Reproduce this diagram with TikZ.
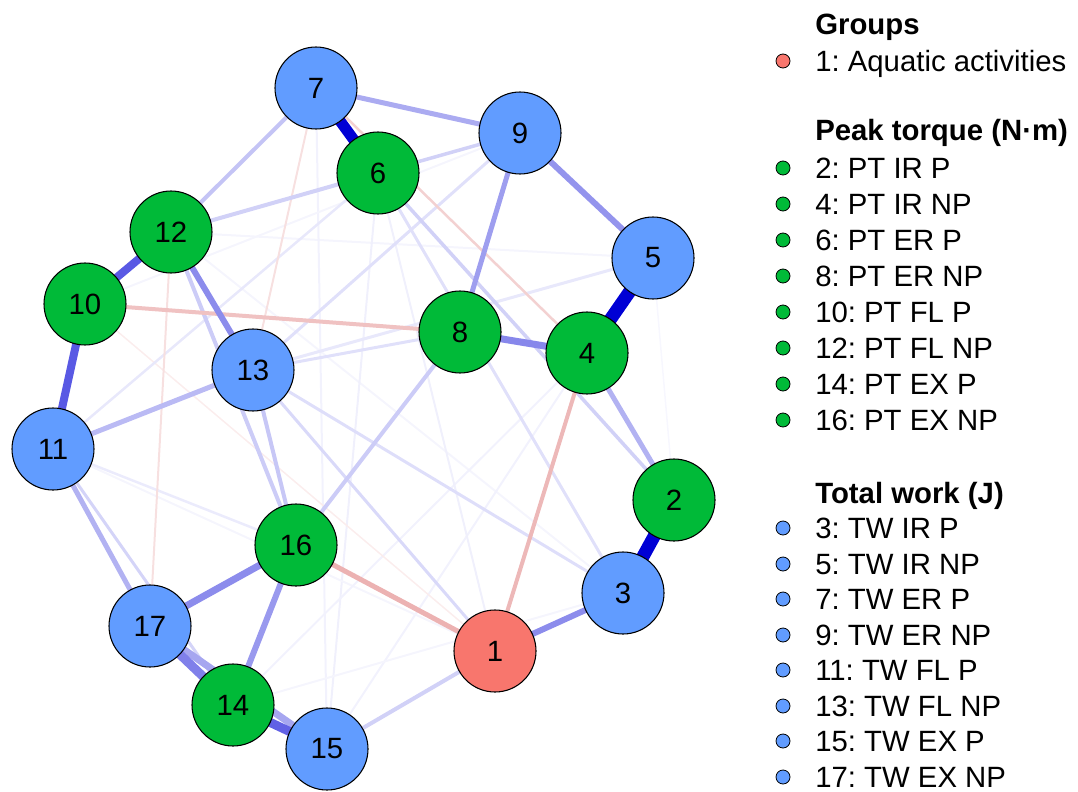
\documentclass[tikz,border=0pt]{standalone}
\usepackage{fontspec}
\setmainfont{Liberation Sans}
\frenchspacing
\pgfdeclarelayer{bg}
\pgfsetlayers{bg,main}
\definecolor{qb}{RGB}{0,0,213}
\definecolor{qr}{RGB}{191,0,0}
\definecolor{cred}{HTML}{F8766D}
\definecolor{cgreen}{HTML}{00BA38}
\definecolor{cblue}{HTML}{619CFF}
\tikzset{
  vnode/.style={circle, draw=black, line width=0.8pt, minimum size=61.5pt, inner sep=0pt, font=\fontsize{22}{26}\selectfont},
  gA/.style={vnode, fill=cred},
  gB/.style={vnode, fill=cgreen},
  gC/.style={vnode, fill=cblue},
  legdot/.style={circle, draw=black, line width=0.6pt, minimum size=10.5pt, inner sep=0pt},
  legtxt/.style={anchor=base west, inner sep=0pt, font=\fontsize{22}{26}\selectfont},
  legttl/.style={legtxt, font=\fontsize{22}{26}\selectfont\bfseries},
  pe/.style 2 args={draw=qb!#2!white, line width=#1*0.75pt},
  ne/.style 2 args={draw=qr!#2!white, line width=#1*0.75pt},
}
\begin{document}
\begin{tikzpicture}[x=0.75pt, y=-0.75pt]
\useasboundingbox (0,0) rectangle (1078,792);
% nodes
\node[gA] (n1) at (495,651) {1};
\node[gB] (n2) at (674,500) {2};
\node[gC] (n3) at (623,593) {3};
\node[gB] (n4) at (587,353) {4};
\node[gC] (n5) at (653,258) {5};
\node[gB] (n6) at (378,173) {6};
\node[gC] (n7) at (316,88) {7};
\node[gB] (n8) at (460,332) {8};
\node[gC] (n9) at (520,133) {9};
\node[gB] (n10) at (85,304) {10};
\node[gC] (n11) at (53,449) {11};
\node[gB] (n12) at (171,232) {12};
\node[gC] (n13) at (253,370) {13};
\node[gB] (n14) at (233,705) {14};
\node[gC] (n15) at (327,749) {15};
\node[gB] (n16) at (296,545) {16};
\node[gC] (n17) at (150,626) {17};
% edges
\begin{pgfonlayer}{bg}
% very faint
\draw[pe={1.5}{3}] (n5.center) -- (n2.center);
\draw[pe={2}{4}] (n5.center) -- (n12.center);
\draw[pe={2}{4}] (n12.center) -- (n3.center);
\draw[pe={2}{6}] (n6.center) -- (n15.center);
\draw[pe={2}{5}] (n7.center) -- (n15.center);
\draw[pe={2}{5}] (n4.center) -- (n15.center);
\draw[pe={2}{4}] (n14.center) -- (n3.center);
\draw[pe={2}{4}] (n11.center) -- (n1.center);
\draw[pe={2}{5}] (n14.center) -- (n4.center);
\draw[pe={2}{4}] (n9.center) -- (n10.center);
\draw[pe={2}{6}] (n6.center) -- (n1.center);
\draw[ne={1.5}{7}] (n10.center) -- (n1.center);
\draw[pe={2.5}{8}] (n11.center) -- (n16.center);
\draw[pe={2.5}{9}] (n11.center) -- (n6.center);
\draw[pe={3}{9}] (n5.center) -- (n13.center);
\draw[pe={3}{12}] (n8.center) -- (n13.center);
\draw[pe={3}{12}] (n9.center) -- (n13.center);
\draw[ne={2}{12}] (n7.center) -- (n13.center);
\draw[ne={2}{12}] (n12.center) -- (n17.center);
\draw[pe={3}{13}] (n3.center) -- (n13.center);
\draw[pe={3}{12}] (n3.center) -- (n6.center);
\draw[pe={3}{15}] (n1.center) -- (n13.center);
\draw[pe={3}{17}] (n11.center) -- (n14.center);
\draw[ne={2.5}{18}] (n4.center) -- (n7.center);
% light
\draw[pe={3.5}{18}] (n2.center) -- (n6.center);
\draw[pe={3.5}{18}] (n6.center) -- (n9.center);
\draw[pe={4}{18}] (n6.center) -- (n12.center);
\draw[pe={4}{18}] (n1.center) -- (n15.center);
\draw[pe={4}{20}] (n8.center) -- (n16.center);
\draw[pe={4}{20}] (n12.center) -- (n16.center);
\draw[pe={4}{22}] (n13.center) -- (n16.center);
\draw[pe={4}{23}] (n7.center) -- (n12.center);
\draw[ne={4}{24}] (n8.center) -- (n10.center);
\draw[ne={4}{28}] (n1.center) -- (n4.center);
\draw[ne={5}{30}] (n1.center) -- (n16.center);
\draw[pe={5}{27}] (n11.center) -- (n13.center);
\draw[pe={5}{30}] (n11.center) -- (n17.center);
\draw[pe={5}{30}] (n2.center) -- (n4.center);
% medium
\draw[pe={5}{33}] (n7.center) -- (n9.center);
\draw[pe={5}{38}] (n8.center) -- (n9.center);
\draw[pe={6}{42}] (n5.center) -- (n9.center);
\draw[pe={6}{45}] (n12.center) -- (n13.center);
\draw[pe={6}{45}] (n1.center) -- (n3.center);
\draw[pe={6}{40}] (n14.center) -- (n16.center);
\draw[pe={7}{45}] (n16.center) -- (n17.center);
\draw[pe={7}{47}] (n4.center) -- (n8.center);
\draw[pe={7}{35}] (n15.center) -- (n17.center);
\draw[pe={9}{50}] (n14.center) -- (n17.center);
\draw[pe={9}{62}] (n14.center) -- (n15.center);
\draw[pe={8}{65}] (n10.center) -- (n12.center);
\draw[pe={8}{65}] (n10.center) -- (n11.center);
% strong
\draw[pe={11}{100}] (n6.center) -- (n7.center);
\draw[pe={13}{100}] (n4.center) -- (n5.center);
\draw[pe={13}{100}] (n2.center) -- (n3.center);
\end{pgfonlayer}
% legend
\node[legttl] (lg1) at (815,34.5) {Groups};
\node[legdot, fill=cred] (d1) at (783,61) {};
\node[legtxt] (t1) at (815,71.5) {1: Aquatic activities};
\node[legttl] (lg2) at (815,140.5) {Peak torque (N·m)};
\node[legdot, fill=cgreen] (d2) at (783,168) {};
\node[legtxt] (t2) at (815,178.5) {2: PT IR P};
\node[legdot, fill=cgreen] (d4) at (783,204) {};
\node[legtxt] (t4) at (815,214.5) {4: PT IR NP};
\node[legdot, fill=cgreen] (d6) at (783,240) {};
\node[legtxt] (t6) at (815,250.5) {6: PT ER P};
\node[legdot, fill=cgreen] (d8) at (783,276) {};
\node[legtxt] (t8) at (815,286.5) {8: PT ER NP};
\node[legdot, fill=cgreen] (d10) at (783,312) {};
\node[legtxt] (t10) at (815,322.5) {10: PT FL P};
\node[legdot, fill=cgreen] (d12) at (783,348) {};
\node[legtxt] (t12) at (815,358.5) {12: PT FL NP};
\node[legdot, fill=cgreen] (d14) at (783,384) {};
\node[legtxt] (t14) at (815,394.5) {14: PT EX P};
\node[legdot, fill=cgreen] (d16) at (783,420) {};
\node[legtxt] (t16) at (815,430.5) {16: PT EX NP};
\node[legttl] (lg3) at (815,503.5) {Total work (J)};
\node[legdot, fill=cblue] (d3) at (783,528) {};
\node[legtxt] (t3) at (815,538.5) {3: TW IR P};
\node[legdot, fill=cblue] (d5) at (783,564) {};
\node[legtxt] (t5) at (815,574.5) {5: TW IR NP};
\node[legdot, fill=cblue] (d7) at (783,599) {};
\node[legtxt] (t7) at (815,609.5) {7: TW ER P};
\node[legdot, fill=cblue] (d9) at (783,635) {};
\node[legtxt] (t9) at (815,645.5) {9: TW ER NP};
\node[legdot, fill=cblue] (d11) at (783,670) {};
\node[legtxt] (t11) at (815,680.5) {11: TW FL P};
\node[legdot, fill=cblue] (d13) at (783,706) {};
\node[legtxt] (t13) at (815,716.5) {13: TW FL NP};
\node[legdot, fill=cblue] (d15) at (783,741) {};
\node[legtxt] (t15) at (815,751.5) {15: TW EX P};
\node[legdot, fill=cblue] (d17) at (783,777) {};
\node[legtxt] (t17) at (815,787.5) {17: TW EX NP};
\end{tikzpicture}
\end{document}
